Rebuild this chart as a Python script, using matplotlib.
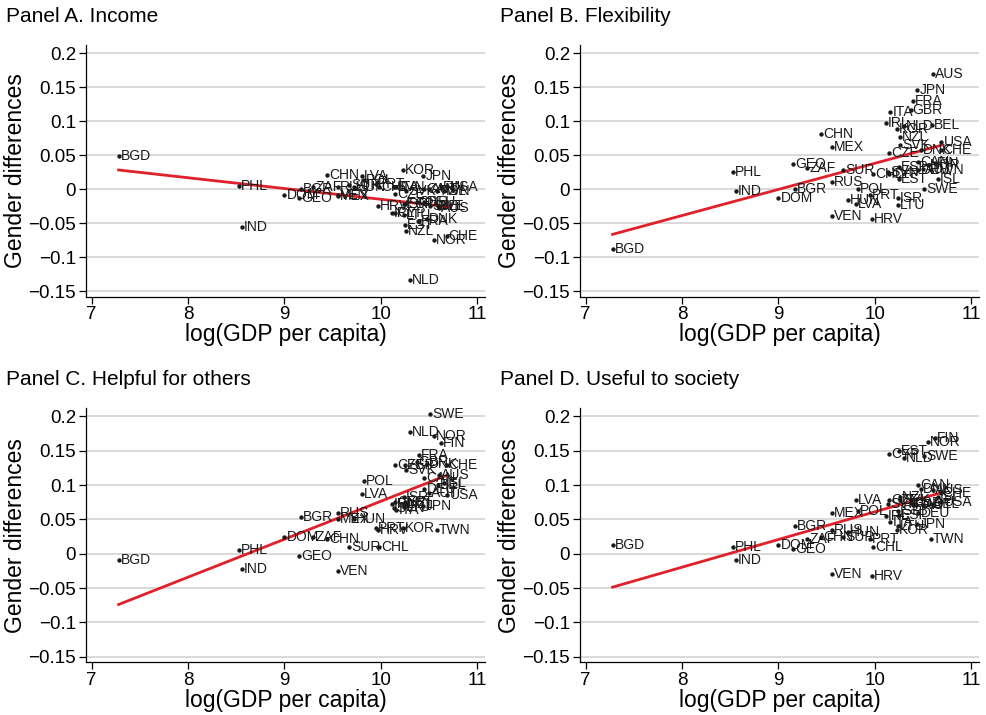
import matplotlib.pyplot as plt
import numpy as np
from matplotlib.ticker import FuncFormatter

plt.rcParams["font.family"] = ["Liberation Sans", "DejaVu Sans"]

countries = [
    "BGD", "PHL", "IND", "DOM", "GEO", "BGR", "ZAF", "CHN", "MEX", "RUS",
    "VEN", "SUR", "HUN", "LVA", "POL", "PRT", "HRV", "CHL", "IRL", "SVN",
    "CZE", "CYP", "ITA", "KOR", "ISR", "LTU", "EST", "ESP", "SVK", "NZL",
    "NLD", "GBR", "FRA", "JPN", "CAN", "DEU", "DNK", "AUT", "SWE", "NOR",
    "TWN", "BEL", "AUS", "FIN", "ISL", "CHE", "USA",
]
log_gdp = [
    7.28, 8.53, 8.56, 9.00, 9.15, 9.17, 9.30, 9.44, 9.55, 9.55,
    9.55, 9.67, 9.72, 9.80, 9.82, 9.95, 9.97, 9.98, 10.11, 10.14,
    10.15, 10.15, 10.16, 10.23, 10.24, 10.24, 10.25, 10.25, 10.26, 10.26,
    10.30, 10.37, 10.39, 10.44, 10.45, 10.45, 10.48, 10.50, 10.51, 10.55,
    10.58, 10.59, 10.60, 10.62, 10.65, 10.68, 10.69,
]
income = [
    0.049, 0.005, -0.056, -0.009, -0.013, 0.000, 0.004, 0.021, -0.010, 0.003,
    -0.008, 0.006, 0.004, 0.019, 0.013, 0.008, -0.025, 0.004, -0.035, 0.004,
    -0.007, -0.035, 0.003, 0.028, -0.021, -0.038, -0.053, -0.022, -0.002, -0.062,
    -0.134, -0.019, -0.047, 0.019, 0.001, -0.019, -0.044, 0.001, -0.024, -0.074,
    -0.002, -0.024, -0.028, 0.003, -0.002, -0.068, 0.004,
]
flexibility = [
    -0.088, 0.026, -0.002, -0.013, 0.037, 0.000, 0.031, 0.081, 0.062, 0.010,
    -0.040, 0.028, -0.016, -0.021, 0.001, -0.009, -0.044, 0.022, 0.097, 0.025,
    0.054, 0.023, 0.114, 0.088, -0.013, -0.023, 0.015, 0.032, 0.065, 0.077,
    0.093, 0.117, 0.130, 0.146, 0.040, 0.028, 0.057, 0.030, 0.001, 0.035,
    0.028, 0.095, 0.170, 0.038, 0.015, 0.057, 0.069,
]
helpful = [
    -0.009, 0.006, -0.022, 0.024, -0.004, 0.053, 0.024, 0.021, 0.051, 0.060,
    -0.025, 0.010, 0.050, 0.087, 0.106, 0.037, 0.034, 0.010, 0.072, 0.066,
    0.129, 0.075, 0.063, 0.037, 0.082, 0.068, 0.075, 0.130, 0.122, 0.072,
    0.177, 0.134, 0.144, 0.070, 0.110, 0.094, 0.131, 0.088, 0.203, 0.172,
    0.034, 0.100, 0.115, 0.162, 0.103, 0.129, 0.085,
]
useful = [
    0.012, 0.010, -0.009, 0.013, 0.007, 0.040, 0.022, 0.024, 0.060, 0.035,
    -0.029, 0.024, 0.031, 0.078, 0.062, 0.021, -0.032, 0.010, 0.055, 0.073,
    0.079, 0.146, 0.046, 0.035, 0.062, 0.041, 0.149, 0.057, 0.079, 0.082,
    0.140, 0.074, 0.071, 0.043, 0.100, 0.060, 0.094, 0.071, 0.143, 0.163,
    0.022, 0.072, 0.093, 0.169, 0.082, 0.088, 0.075,
]

panels = [
    ("Panel A. Income", income),
    ("Panel B. Flexibility", flexibility),
    ("Panel C. Helpful for others", helpful),
    ("Panel D. Useful to society", useful),
]

# axes boxes in figure fractions: left, bottom, width, height
boxes = [
    (0.087, 0.585, 0.405, 0.352),
    (0.588, 0.585, 0.405, 0.352),
    (0.087, 0.074, 0.405, 0.355),
    (0.588, 0.074, 0.405, 0.355),
]


def fmt_y(v, pos):
    s = f"{v:.2f}".rstrip("0").rstrip(".")
    if s in ("-0", "0"):
        return "0"
    return s.replace("-", "\u2212")


fig = plt.figure(figsize=(9.86, 7.15), dpi=100)
x = np.array(log_gdp)

for (title, values), box in zip(panels, boxes):
    y = np.array(values)
    ax = fig.add_axes(box)
    ax.set_xlim(6.94, 11.08)
    ax.set_ylim(-0.158, 0.212)
    ax.set_yticks(np.arange(-0.15, 0.201, 0.05))
    ax.set_xticks([7, 8, 9, 10, 11])
    ax.yaxis.set_major_formatter(FuncFormatter(fmt_y))
    ax.grid(axis="y", color="#d0d0d0", linewidth=1.1)
    ax.set_axisbelow(True)
    for side in ("top", "right"):
        ax.spines[side].set_visible(False)
    ax.spines["left"].set_linewidth(0.9)
    ax.spines["bottom"].set_linewidth(0.9)
    ax.tick_params(axis="both", labelsize=13.5, length=5, width=0.9,
                   direction="out", pad=2)

    ax.scatter(x, y, s=10, color="#1a1a1a", zorder=3, linewidths=0)
    for name, xi, yi in zip(countries, x, y):
        ax.annotate(name, (xi, yi), xytext=(1.5, 0), textcoords="offset points",
                    fontsize=10, va="center", ha="left", color="#1a1a1a", zorder=4)

    slope, intercept = np.polyfit(x, y, 1)
    xs = np.array([x.min(), x.max()])
    ax.plot(xs, intercept + slope * xs, color="#e0202a", linewidth=2, zorder=2)

    ax.set_xlabel("log(GDP per capita)", fontsize=16.5, labelpad=0)
    ax.set_ylabel("Gender differences", fontsize=16.5, labelpad=1)
    ax.text(-0.2, 1.115, title, transform=ax.transAxes, fontsize=15,
            ha="left", va="center")

fig.savefig("out.png", dpi=100)
